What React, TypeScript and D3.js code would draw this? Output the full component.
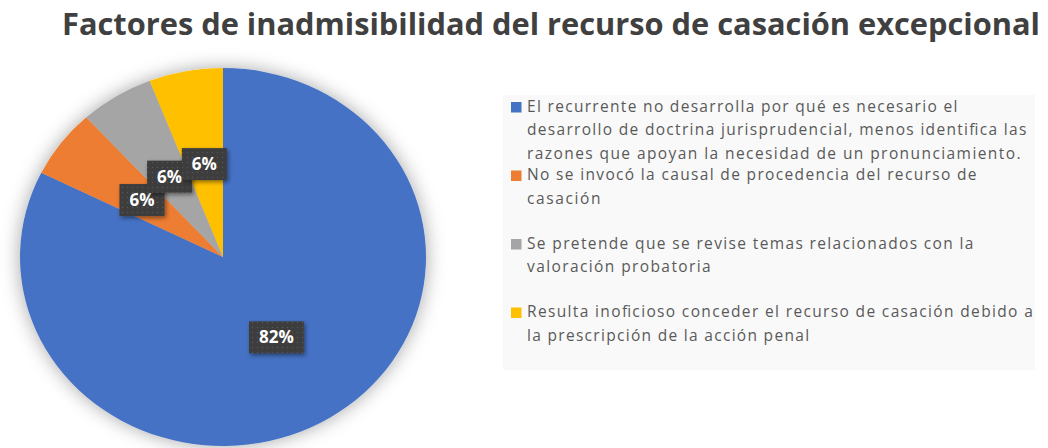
import React, { useEffect, useRef } from "react";
import * as d3 from "d3";

const title = "Factores de inadmisibilidad del recurso de casación excepcional";
const categories = [
  "El recurrente no desarrolla por qué es necesario el|desarrollo de doctrina jurisprudencial, menos identifica las|razones que apoyan la necesidad de un pronunciamiento.",
  "No se invocó la causal de procedencia del recurso de|casación",
  "Se pretende que se revise temas relacionados con la|valoración probatoria",
  "Resulta inoficioso conceder el recurso de casación debido a|la prescripción de la acción penal",
];
const counts = [14, 1, 1, 1];
const colors = ["#4472C4", "#ED7D31", "#A5A5A5", "#FFC000"];

export default function App() {
  const ref = useRef<SVGSVGElement>(null);
  useEffect(() => {
    document.body.style.margin = "0";
    const svg = d3.select(ref.current);
    svg.selectAll("*").remove();
    const W = 1048, H = 448;
    svg.append("rect").attr("width", W).attr("height", H).attr("fill", "#ffffff");

    const defs = svg.append("defs");
    const sh = defs.append("filter").attr("id", "pieShadow").attr("x", "-30%").attr("y", "-30%").attr("width", "160%").attr("height", "160%");
    sh.append("feDropShadow").attr("dx", 0).attr("dy", 0).attr("stdDeviation", 9).attr("flood-color", "#000").attr("flood-opacity", 0.35);
    const lsh = defs.append("filter").attr("id", "lblShadow").attr("x", "-30%").attr("y", "-30%").attr("width", "160%").attr("height", "160%");
    lsh.append("feDropShadow").attr("dx", 1.5).attr("dy", 2).attr("stdDeviation", 2).attr("flood-color", "#000").attr("flood-opacity", 0.45);
    const pat = defs.append("pattern").attr("id", "dots").attr("width", 5).attr("height", 5).attr("patternUnits", "userSpaceOnUse");
    pat.append("rect").attr("width", 5).attr("height", 5).attr("fill", "#3d3d3d");
    pat.append("circle").attr("cx", 2.5).attr("cy", 2.5).attr("r", 0.7).attr("fill", "#555555");

    // title
    svg.append("text")
      .attr("x", 62).attr("y", 35)
      .attr("font-family", "'Open Sans', sans-serif").attr("font-weight", 700)
      .attr("font-size", 30).attr("fill", "#404040")
      .attr("textLength", 978).attr("lengthAdjust", "spacingAndGlyphs")
      .text(title);

    // pie
    const cx = 223, cy = 257, ry = 189, sx = 1.074;
    const total = d3.sum(counts);
    const pie = d3.pie<number>().sort(null).value((d) => d);
    const arcs = pie(counts);
    const arc = d3.arc<d3.PieArcDatum<number>>().innerRadius(0).outerRadius(ry);
    const g = svg.append("g").attr("transform", `translate(${cx},${cy}) scale(${sx},1)`);
    const pg = g.append("g").attr("filter", "url(#pieShadow)");
    pg.selectAll("path").data(arcs).join("path")
      .attr("d", arc as any).attr("fill", (_d, i) => colors[i]);

    // labels
    const lg = svg.append("g");
    arcs.forEach((a) => {
      const [x0, y0] = arc.centroid(a);
      const x = cx + x0 * sx, y = cy + y0;
      const txt = `${Math.round((a.data / total) * 100)}%`;
      const grp = lg.append("g");
      const rect = grp.append("rect").attr("fill", "url(#dots)").attr("filter", "url(#lblShadow)");
      const t = grp.append("text")
        .attr("x", x).attr("y", y + 6)
        .attr("text-anchor", "middle")
        .attr("font-family", "'Open Sans', sans-serif").attr("font-weight", 700)
        .attr("font-size", 17).attr("fill", "#ffffff")
        .text(txt);
      const bw = (t.node() as SVGTextElement).getComputedTextLength();
      const w = bw + 20, h = 32;
      rect.attr("x", x - w / 2).attr("y", y - h / 2).attr("width", w).attr("height", h);
    });

    // legend
    const leg = svg.append("g");
    leg.append("rect").attr("x", 503).attr("y", 95).attr("width", 532).attr("height", 275).attr("fill", "#f9f9f9");
    categories.forEach((c, i) => {
      const by = 111.5 + i * 68.5;
      leg.append("rect").attr("x", 511).attr("y", by - 9.5).attr("width", 10.5).attr("height", 10.5).attr("fill", colors[i]);
      c.split("|").forEach((line, j) => {
        const t = leg.append("text")
          .attr("x", 527).attr("y", by + j * 23.5)
          .attr("font-family", "'Open Sans', sans-serif").attr("font-size", 15.5)
          .attr("fill", "#595959")
          .text(line);
        const nat = (t.node() as SVGTextElement).getComputedTextLength();
        t.attr("textLength", nat * 1.18).attr("lengthAdjust", "spacing");
      });
    });
  }, []);
  return <svg ref={ref} width={1048} height={448} style={{ display: "block" }} />;
}
